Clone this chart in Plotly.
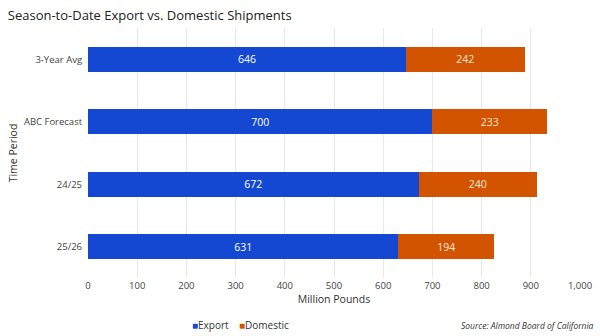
import plotly.graph_objects as go

categories = ["25/26", "24/25", "ABC Forecast", "3-Year Avg"]
export_vals = [631, 672, 700, 646]
domestic_vals = [194, 240, 233, 242]
x_ticks = [0, 100, 200, 300, 400, 500, 600, 700, 800, 900, 1000]
x_tick_labels = ["0", "100", "200", "300", "400", "500", "600", "700", "800", "900", "1,000"]
series_names = ["Export", "Domestic"]

BLUE = "#1448d3"
ORANGE = "#d35400"
FONT = "Open Sans"

fig = go.Figure()
fig.add_trace(go.Bar(
    y=categories, x=export_vals, name=series_names[0], orientation="h",
    marker=dict(color=BLUE, line=dict(width=0)),
    text=[str(v) for v in export_vals], textposition="inside",
    insidetextanchor="middle", textfont=dict(color="#ffffff", size=10.5, family=FONT),
    width=0.4, showlegend=False,
))
fig.add_trace(go.Bar(
    y=categories, x=domestic_vals, name=series_names[1], orientation="h",
    marker=dict(color=ORANGE, line=dict(width=0)),
    text=[str(v) for v in domestic_vals], textposition="inside",
    insidetextanchor="middle", textfont=dict(color="#fbe9dc", size=10.5, family=FONT),
    width=0.4, showlegend=False,
))

fig.update_layout(
    barmode="stack",
    width=600, height=336,
    margin=dict(l=88, r=20, t=28, b=58, autoexpand=False),
    paper_bgcolor="white", plot_bgcolor="white",
    font=dict(family=FONT, color="#333333", size=10),
    showlegend=False,
    title=dict(text="Season-to-Date Export vs. Domestic Shipments", x=0.013, xanchor="left",
               y=0.955, yanchor="middle", font=dict(size=13, color="#222222", family=FONT)),
    xaxis=dict(range=[0, 1000], tickvals=x_ticks, ticktext=x_tick_labels,
               showgrid=True, gridcolor="#e8e8e8", gridwidth=1, zeroline=False,
               showline=False, ticks="", tickfont=dict(size=9.5, color="#444444"),
               automargin=False,
               title=dict(text="Million Pounds", font=dict(size=10.5, color="#333333"), standoff=5)),
    yaxis=dict(showgrid=False, zeroline=False, showline=False, ticks="",
               ticksuffix="  ", tickfont=dict(size=9.5, color="#444444"), automargin=False,
               title=dict(text="Time Period", font=dict(size=10.5, color="#333333"), standoff=4)),
    uniformtext=dict(minsize=8, mode="show"),
)
legend_text = (f"<span style='color:{BLUE}'>■</span>{series_names[0]}    "
               f"<span style='color:{ORANGE}'>■</span>{series_names[1]}")
fig.add_annotation(text=legend_text, xref="paper", yref="paper",
                   x=0.31, y=-0.188, xanchor="center", yanchor="middle", showarrow=False,
                   font=dict(size=10, color="#333333", family=FONT))
fig.add_annotation(text="<i>Source: Almond Board of California</i>", xref="paper", yref="paper",
                   x=1.033, y=-0.188, xanchor="right", yanchor="middle", showarrow=False,
                   font=dict(size=8.5, color="#333333", family=FONT))

fig.write_html("out.html")
